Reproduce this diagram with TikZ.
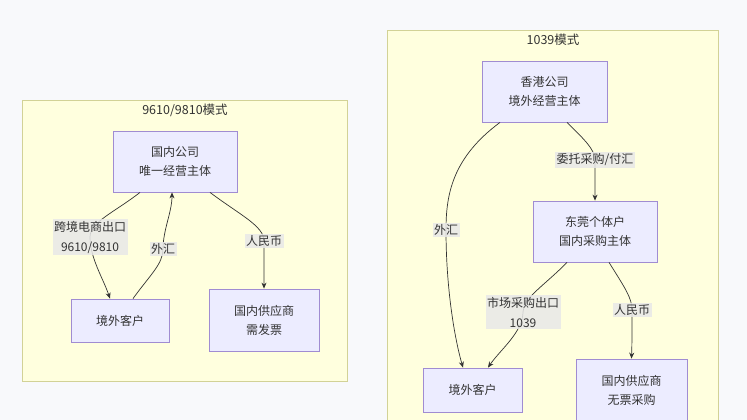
\documentclass[tikz,border=0pt]{standalone}
\usepackage{fontspec}
\setmainfont{Noto Sans CJK SC}
\usetikzlibrary{arrows.meta}
\definecolor{bgc}{RGB}{248,249,251}
\definecolor{clfill}{RGB}{255,255,222}
\definecolor{cldraw}{RGB}{210,210,150}
\definecolor{nfill}{RGB}{236,236,255}
\definecolor{ndraw}{RGB}{160,140,210}
\definecolor{lfill}{RGB}{232,232,232}
\definecolor{ink}{RGB}{51,51,51}
\tikzset{
  cluster/.style={fill=clfill, draw=cldraw, line width=0.8pt},
  box/.style={draw=ndraw, fill=nfill, line width=0.8pt, text=ink, align=center, inner sep=0pt,
    font=\fontsize{12}{19}\selectfont},
  elabel/.style={fill=lfill, fill opacity=0.85, text opacity=1, text=ink, align=center, inner sep=1.5pt,
    font=\fontsize{12}{20}\selectfont},
  ctitle/.style={text=ink, font=\fontsize{12.5}{14}\selectfont},
  edge/.style={draw=ink, line width=0.7pt, -{Stealth[length=6pt,width=5pt]}}
}
\begin{document}
\begin{tikzpicture}[x=1pt,y=-1pt]
\fill[bgc] (0,0) rectangle (747,420);
\useasboundingbox (0,0) rectangle (747,420);
\clip (0,0) rectangle (747,420);
% clusters
\draw[cluster] (22,100) rectangle (347,381);
\node[ctitle] (t1) at (185,110) {9610/9810模式};
\draw[cluster] (387,30) rectangle (718,440);
\node[ctitle] (t2) at (553,40) {1039模式};
% left nodes
\node[box, minimum width=124pt, minimum height=61pt] (n1) at (175,161.5) {国内公司\\唯一经营主体};
\node[box, minimum width=98pt, minimum height=43pt] (c1) at (120,320.5) {境外客户};
\node[box, minimum width=110pt, minimum height=62pt] (s1) at (264,320) {国内供应商\\需发票};
% right nodes
\node[box, minimum width=125pt, minimum height=61pt] (h) at (544.5,91.5) {香港公司\\境外经营主体};
\node[box, minimum width=124pt, minimum height=61pt] (d) at (595,231.5) {东莞个体户\\国内采购主体};
\node[box, minimum width=99pt, minimum height=44pt] (c2) at (472.5,390) {境外客户};
\node[box, minimum width=111pt, minimum height=62pt] (s2) at (631.5,390) {国内供应商\\无票采购};
% label anchor points
\coordinate (p1) at (90,237);
\coordinate (p2) at (163,249);
\coordinate (p3) at (264,241);
\coordinate (p4) at (446,230);
\coordinate (p5) at (595,160);
\coordinate (p6) at (523,312);
\coordinate (p7) at (632,310);
% edges
\draw[edge] ([xshift=-35pt]n1.south) .. controls (115,212) and (90,222) .. (p1) .. controls (90,258) and (103,278) .. ([xshift=-10pt]c1.north);
\draw[edge] ([xshift=13pt]c1.north) .. controls (150,275) and (163,264) .. (p2) .. controls (163,230) and (172,212) .. ([xshift=-3pt]n1.south);
\draw[edge] ([xshift=35pt]n1.south) .. controls (240,215) and (264,226) .. (p3) .. controls (264,258) and (264,272) .. (s1.north);
\draw[edge] ([xshift=-44.5pt]h.south) .. controls (452,158) and (446,195) .. (p4) .. controls (446,290) and (455,340) .. ([xshift=-9.5pt]c2.north);
\draw[edge] ([xshift=22.5pt]h.south) .. controls (585,140) and (595,150) .. (p5) .. controls (595,175) and (595,188) .. (d.north);
\draw[edge] ([xshift=-28pt]d.south) .. controls (545,285) and (523,298) .. (p6) .. controls (523,332) and (500,350) .. ([xshift=15.5pt]c2.north);
\draw[edge] ([xshift=14pt]d.south) .. controls (625,288) and (632,298) .. (p7) .. controls (632,330) and (632,345) .. (s2.north);
% labels
\node[elabel] (l1) at (p1) {跨境电商出口\\9610/9810};
\node[elabel] (l2) at (p2) {外汇};
\node[elabel] (l3) at (p3) {人民币};
\node[elabel] (l4) at (p4) {外汇};
\node[elabel] (l5) at (p5) {委托采购/付汇};
\node[elabel] (l6) at (p6) {市场采购出口\\1039};
\node[elabel] (l7) at (p7) {人民币};
\end{tikzpicture}
\end{document}
